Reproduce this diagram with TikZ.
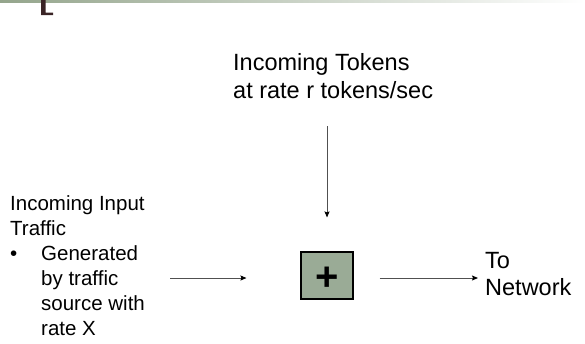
\documentclass[tikz,border=0pt]{standalone}
\usepackage{fontspec}
\setmainfont{Liberation Sans}
\usetikzlibrary{arrows.meta}
\definecolor{barg}{RGB}{148,165,140}
\definecolor{boxg}{RGB}{154,171,150}
\definecolor{glyph}{RGB}{58,36,38}
\definecolor{linec}{RGB}{80,80,80}
\tikzset{
  label/.style={inner sep=0pt, anchor=base west, text=black},
  bigtext/.style={label, font=\fontsize{23.5}{28}\selectfont},
  nettext/.style={label, font=\fontsize{23.5}{27}\selectfont},
  smalltext/.style={label, font=\fontsize{20.5}{25}\selectfont},
  sumbox/.style={draw=black, line width=1.1pt, fill=boxg, minimum width=52pt, minimum height=47pt, inner sep=0pt},
  arr/.style={draw=linec, line width=0.9pt, -{Stealth[length=6pt,width=5pt,inset=1pt,color=black]}}
}
\begin{document}
\begin{tikzpicture}[x=1pt,y=-1pt]
\useasboundingbox (0,0) rectangle (585,343);
% header rule and clipped title glyph
\shade[left color=barg, right color=white] (0,0) rectangle (585,2.5);
\fill[glyph] (41,0) -- (45.5,0) -- (45.5,12.5) -- (53,12.5) -- (53,15) -- (41,15) -- cycle;

% texts
\node[bigtext] (tok) at (233,70) {\begin{tabular}[t]{@{}l@{}}Incoming Tokens\\at rate r tokens/sec\end{tabular}};
\node[smalltext] (src) at (10,210) {\begin{tabular}[t]{@{}l@{}l@{}}
\multicolumn{2}{@{}l@{}}{Incoming Input}\\
\multicolumn{2}{@{}l@{}}{Traffic}\\
\makebox[31pt][l]{\textbullet} & Generated\\
 & by traffic\\
 & source with\\
 & rate X
\end{tabular}};
\node[nettext] (net) at (485,268) {\begin{tabular}[t]{@{}l@{}}To\\Network\end{tabular}};

% token adder
\node[sumbox] (box) at (327,275.5) {};
\node[inner sep=0pt, font=\fontsize{40}{40}\selectfont\bfseries] (plus) at (327,279) {+};

% connectors
\coordinate (srcout) at (170,278);
\coordinate (tokout) at (327,126);
\draw[arr, shorten >=54pt] (srcout) -- ([yshift=-2.5pt]box.west);
\draw[arr, shorten >=34pt] (tokout) -- (box.north);
\draw[arr, shorten <=26pt, shorten >=7pt] ([yshift=-2.5pt]box.east) -- ([yshift=-2.5pt]box.east -| net.west);
\end{tikzpicture}
\end{document}
